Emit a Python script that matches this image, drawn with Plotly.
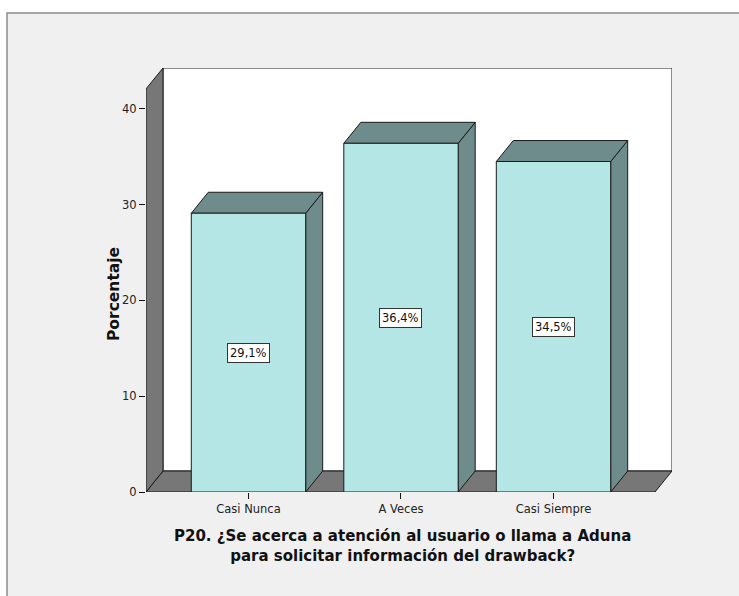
import plotly.graph_objects as go

# Survey responses (percentage of respondents)
categories = ["Casi Nunca", "A Veces", "Casi Siempre"]
percentages = [29.1, 36.4, 34.5]
y_ticks = [0, 10, 20, 30, 40]

# Figure geometry (pixels)
W, H = 739, 596
L, R, T, B = 146, 67, 68, 104
plot_w = W - L - R
plot_h = H - T - B

# Axis ranges (data units) and 3D depth offsets
x_min, x_max = -0.672, 2.777
y_max = 44.26
depth_x = 0.1115            # horizontal depth of the 3D box, in category units
depth_y = 2.19              # vertical depth of the 3D box, in percent units
wall_top = y_max - depth_y  # height of the front edge of the left wall
floor_right = x_max - depth_x
bar_w = 0.75

FACE = "#b4e6e6"
SIDE = "#6e8c8b"
WALL = "#777777"
EDGE = "#1a1a1a"
BG = "#f0f0f0"
FONT = "DejaVu Sans, Verdana, sans-serif"


def poly(xs, ys, fill):
    return go.Scatter(
        x=list(xs) + [xs[0]], y=list(ys) + [ys[0]],
        mode="lines", fill="toself", fillcolor=fill,
        line=dict(color=EDGE, width=1), hoverinfo="skip", showlegend=False,
    )


fig = go.Figure()

# Back wall
fig.add_trace(poly([x_min + depth_x, x_max, x_max, x_min + depth_x],
                   [depth_y, depth_y, y_max, y_max], "white"))
# Floor
fig.add_trace(poly([x_min, floor_right, x_max, x_min + depth_x],
                   [0, 0, depth_y, depth_y], WALL))
# Left wall
fig.add_trace(poly([x_min, x_min, x_min + depth_x, x_min + depth_x],
                   [0, wall_top, y_max, depth_y], WALL))

# 3D bars: front face, top face and right side
for i, v in enumerate(percentages):
    xl, xr = i - bar_w / 2, i + bar_w / 2
    fig.add_trace(poly([xr, xr + depth_x, xr + depth_x, xr],
                       [0, depth_y, v + depth_y, v], SIDE))
    fig.add_trace(poly([xl, xr, xr + depth_x, xl + depth_x],
                       [v, v, v + depth_y, v + depth_y], SIDE))
    fig.add_trace(poly([xl, xr, xr, xl], [0, 0, v, v], FACE))
    fig.add_annotation(
        x=i, y=v / 2, xref="x", yref="y",
        text=f"{v:.1f}".replace(".", ",") + "%",
        showarrow=False, bgcolor="white", bordercolor="#333333",
        borderwidth=1, borderpad=2,
        font=dict(family=FONT, size=11.5, color="#111111"),
    )

# Outer chart frame
fig.add_shape(type="rect", xref="paper", yref="paper", layer="below",
              x0=(7 - L) / plot_w, x1=(W + 10 - L) / plot_w,
              y0=-(H + 10 - (H - B)) / plot_h, y1=(H - B - 13) / plot_h,
              fillcolor=BG, line=dict(color="#8a8a8a", width=1.5))

# Axis titles
fig.add_annotation(
    xref="paper", yref="paper", x=(103 - L) / plot_w, y=(H - B - 294) / plot_h,
    text="<b>Porcentaje</b>", textangle=-90, showarrow=False,
    font=dict(family=FONT, size=15.5, color="#111111"),
)
fig.add_annotation(
    xref="paper", yref="paper", x=(402 - L) / plot_w, y=(H - B - 546) / plot_h,
    text="<b>P20. ¿Se acerca a atención al usuario o llama a Aduna<br>"
         "para solicitar información del drawback?</b>",
    showarrow=False, align="center", yanchor="middle",
    font=dict(family=FONT, size=15, color="#111111"),
)

fig.update_layout(
    width=W, height=H,
    margin=dict(l=L, r=R, t=T, b=B, pad=0),
    paper_bgcolor="white", plot_bgcolor=BG,
    showlegend=False,
    xaxis=dict(range=[x_min, x_max], tickvals=list(range(len(categories))),
               ticktext=categories, ticks="outside", ticklen=6, tickwidth=1,
               tickcolor="#111111", showgrid=False, zeroline=False,
               showline=False, fixedrange=True,
               tickfont=dict(family=FONT, size=11.5, color="#222222")),
    yaxis=dict(range=[0, y_max], tickvals=y_ticks, ticks="outside",
               ticklen=6, tickwidth=1, tickcolor="#111111", showgrid=False,
               zeroline=False, showline=False, fixedrange=True,
               tickfont=dict(family=FONT, size=11.5, color="#222222")),
)

fig.write_html("out.html")
